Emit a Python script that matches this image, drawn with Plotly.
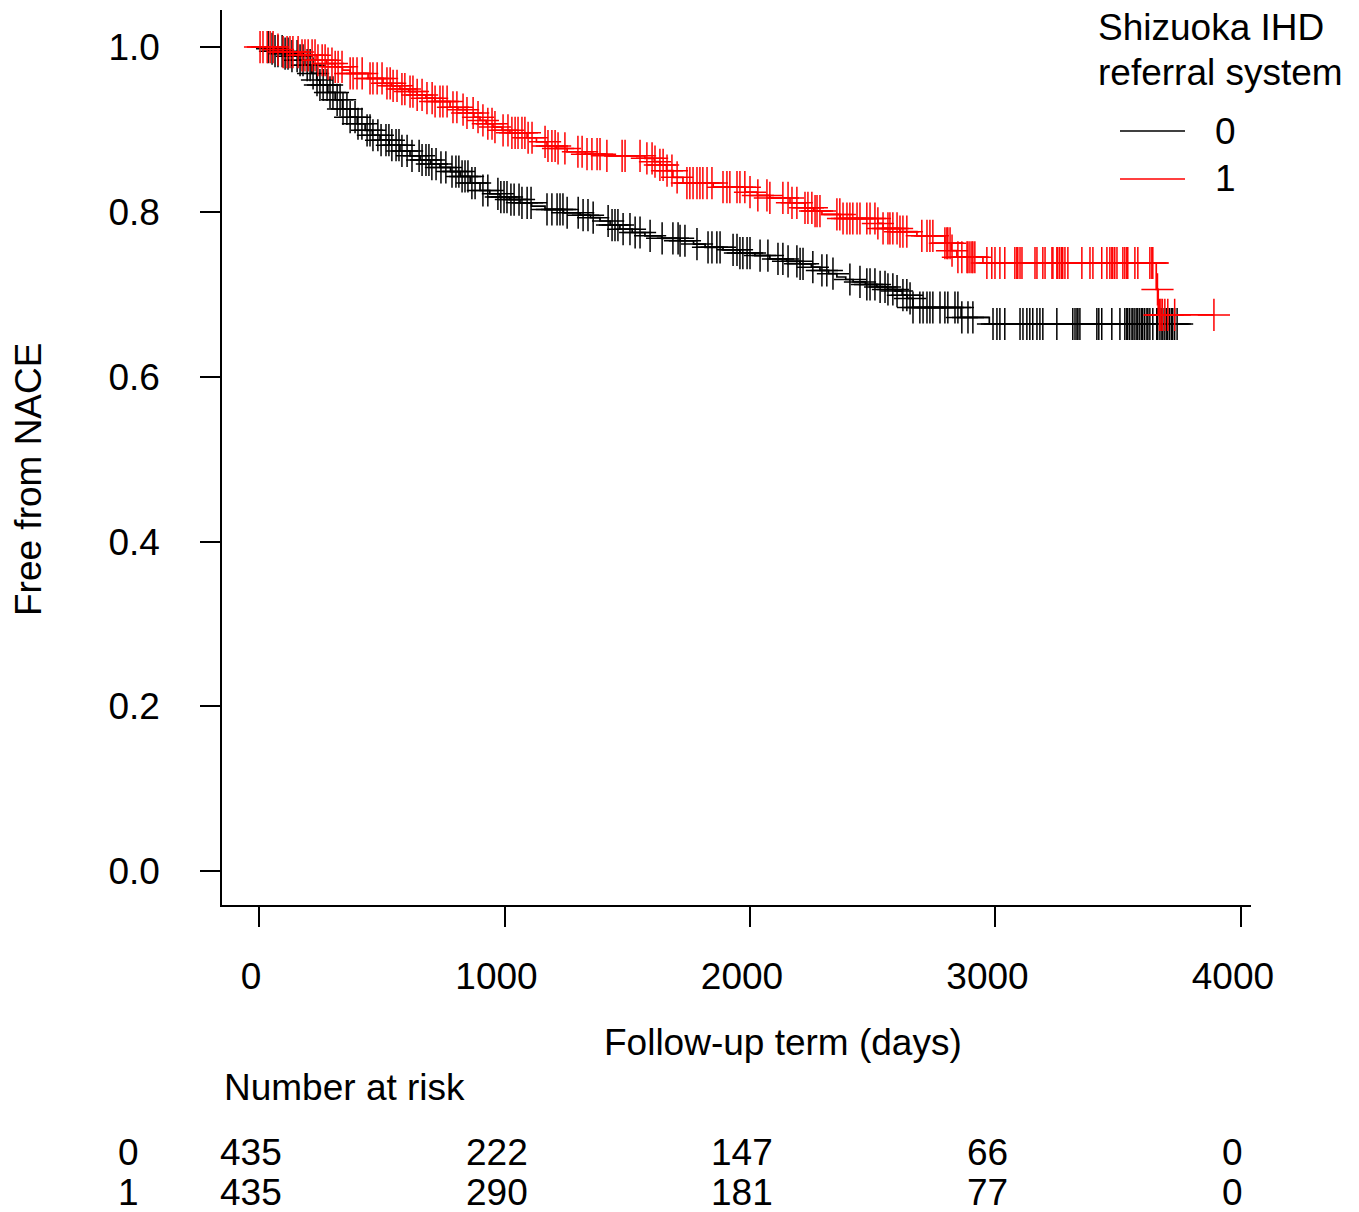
import numpy as np
import plotly.graph_objects as go

# ---------------- data ----------------
groups = ["0", "1"]

# Kaplan-Meier step points (time in days, survival)
g0_times = [0, 40, 65, 100, 126, 160, 187, 215, 235, 248, 280, 310, 340, 371, 400, 432, 462,
            493, 530, 574, 615, 656, 700, 737, 780, 819, 860, 900, 940, 982, 1020, 1063, 1110,
            1165, 1240, 1308, 1350, 1389, 1430, 1470, 1520, 1572, 1640, 1715, 1770, 1817, 1890,
            1959, 2020, 2081, 2150, 2204, 2250, 2285, 2320, 2354, 2390, 2420, 2470, 2517, 2560,
            2591, 2620, 2640, 2664, 2860, 2975]
g0_surv = [1.0, 0.998, 0.995, 0.992, 0.989, 0.984, 0.978, 0.968, 0.960, 0.954, 0.945, 0.936,
           0.925, 0.915, 0.907, 0.899, 0.893, 0.887, 0.881, 0.874, 0.868, 0.863, 0.858, 0.854,
           0.849, 0.843, 0.835, 0.826, 0.822, 0.818, 0.815, 0.811, 0.807, 0.803, 0.799, 0.796,
           0.793, 0.789, 0.784, 0.779, 0.775, 0.771, 0.768, 0.765, 0.761, 0.757, 0.754, 0.750,
           0.747, 0.743, 0.740, 0.737, 0.733, 0.729, 0.725, 0.721, 0.718, 0.715, 0.712, 0.709,
           0.706, 0.704, 0.699, 0.695, 0.684, 0.672, 0.664]

g1_times = [0, 60, 98, 167, 236, 275, 310, 340, 371, 444, 505, 540, 574, 610, 644, 680, 717,
            778, 810, 847, 875, 900, 925, 953, 990, 1022, 1092, 1130, 1173, 1210, 1255, 1330,
            1409, 1572, 1610, 1633, 1660, 1686, 1727, 1850, 1980, 2030, 2081, 2163, 2224, 2260,
            2293, 2367, 2521, 2542, 2610, 2680, 2794, 2820, 2843, 2949, 3655, 3663]
g1_surv = [1.0, 0.997, 0.994, 0.990, 0.984, 0.980, 0.976, 0.972, 0.968, 0.962, 0.956, 0.953,
           0.949, 0.946, 0.942, 0.938, 0.934, 0.927, 0.924, 0.920, 0.915, 0.911, 0.907, 0.903,
           0.899, 0.896, 0.890, 0.885, 0.880, 0.877, 0.873, 0.870, 0.868, 0.865, 0.861, 0.857,
           0.850, 0.842, 0.835, 0.830, 0.824, 0.820, 0.817, 0.811, 0.805, 0.801, 0.797, 0.792,
           0.786, 0.780, 0.776, 0.771, 0.762, 0.753, 0.745, 0.738, 0.706, 0.675]

# censoring times (days)
g0_censor = [37, 53, 65, 77, 94, 106, 118, 134, 155, 167, 179, 196, 208, 220, 236, 248, 261,
             277, 289, 301, 318, 330, 342, 358, 371, 391, 403, 419, 440, 452, 464, 484, 497,
             517, 529, 541, 558, 570, 582, 603, 623, 652, 664, 680, 692, 704, 721, 741, 761,
             786, 802, 814,
             827, 839, 851, 867, 880, 912, 932, 973, 985, 998, 1010, 1026, 1039, 1059, 1071,
             1092, 1108, 1173, 1193, 1214, 1226, 1238, 1255, 1300, 1320, 1340, 1361, 1422,
             1438, 1450, 1462, 1483, 1511, 1532, 1552, 1593, 1642, 1686, 1707,
             1715, 1735, 1784, 1829, 1845, 1865, 1878, 1931, 1947, 1959, 1971, 1988, 2000,
             2041, 2073, 2114, 2134, 2155, 2191, 2204, 2216, 2256, 2293, 2313, 2338, 2407,
             2448, 2476, 2489, 2509, 2530, 2550,
             2562, 2582, 2599, 2623, 2639, 2652, 2664, 2692, 2705, 2721, 2733, 2745, 2774,
             2794, 2806, 2835, 2847, 2863, 2888, 2908, 2990, 3006, 3018, 3038, 3100, 3112,
             3128, 3140, 3152, 3169, 3181, 3193, 3250,
             3315, 3324, 3332, 3336, 3344, 3413, 3421, 3433, 3474, 3507, 3527, 3535, 3539,
             3547, 3556, 3560, 3568, 3576, 3580, 3588, 3596, 3600, 3608, 3617, 3621, 3629,
             3641, 3657, 3661, 3670, 3678, 3682, 3690, 3698, 3702, 3710, 3718, 3722, 3730,
             3740]

g1_censor = [4, 16, 33, 45, 57, 77, 98, 114, 126, 138, 159, 175, 187, 200, 216, 228, 240, 257,
             269, 281, 297, 310, 322, 338, 371, 383, 399, 420, 452, 464, 481, 501, 521, 534,
             546, 562, 582, 594, 615, 627, 644, 664, 684, 705, 717, 737, 749, 766, 790, 806,
             831, 847,
             872, 892, 912, 932, 949, 961, 994, 1014, 1030, 1043, 1055, 1071, 1083, 1096, 1112,
             1165, 1177, 1193, 1206, 1218, 1246, 1299, 1316, 1336, 1356, 1377, 1389, 1417,
             1479, 1491, 1552, 1580, 1601, 1613, 1633, 1646, 1662, 1682, 1703,
             1743, 1755, 1768, 1784, 1796, 1808, 1825, 1845, 1890, 1906, 1918, 1947, 1959,
             1979, 2000, 2032, 2069, 2081, 2134, 2155, 2171, 2191, 2224, 2236, 2252, 2265,
             2273, 2285, 2354, 2366, 2379, 2395, 2407, 2419, 2436, 2448, 2476, 2489, 2509,
             2521, 2542, 2562,
             2570, 2582, 2599, 2611, 2623, 2639, 2700, 2721, 2733, 2745, 2794, 2802, 2806,
             2815, 2823, 2847, 2863, 2884, 2888, 2896, 2904, 2908, 2916, 2965, 2985, 2998,
             3018, 3038, 3079, 3087, 3091, 3100, 3108, 3161, 3169, 3193, 3202,
             3230, 3234, 3250, 3254, 3262, 3270, 3274, 3283, 3295, 3352, 3385, 3397, 3433,
             3454, 3466, 3474, 3478, 3486, 3495, 3519, 3527, 3535, 3539, 3568, 3580, 3629,
             3637, 3641, 3660, 3668, 3674, 3680, 3690, 3702, 3730, 3890]

risk_times = [0, 1000, 2000, 3000, 4000]
risk_0 = [435, 222, 147, 66, 0]
risk_1 = [435, 290, 181, 77, 0]

x_ticks = [0, 1000, 2000, 3000, 4000]
y_ticks = [0.0, 0.2, 0.4, 0.6, 0.8, 1.0]

colors = {"0": "#000000", "1": "#ff0000"}
FONT = "Liberation Sans, Arial, sans-serif"
FS = 37

# page body has an 8px margin: figure drawn 8px smaller so it fits the window
W, H = 1351, 1204
ML, MR, MT, MB = 214, 108, 2, 307

# ---------------- figure ----------------
fig = go.Figure()


def surv_at(times, surv, t):
    idx = np.searchsorted(np.asarray(times), np.asarray(t), side="right") - 1
    return np.asarray(surv)[idx]


for g, tt, ss, cc in [("0", g0_times, g0_surv, g0_censor), ("1", g1_times, g1_surv, g1_censor)]:
    x_line = list(tt) + [max(cc)]
    y_line = list(ss) + [ss[-1]]
    fig.add_trace(go.Scatter(x=x_line, y=y_line, mode="lines", line_shape="hv",
                             line=dict(color=colors[g], width=1.7), name=g,
                             showlegend=False, hoverinfo="skip"))
    fig.add_trace(go.Scatter(x=cc, y=surv_at(tt, ss, cc), mode="markers",
                             marker=dict(symbol="cross-thin", size=23,
                                         line=dict(color=colors[g], width=1.5)),
                             showlegend=False, hoverinfo="skip"))

PW = W - ML - MR   # plot width px
PH = H - MT - MB   # plot height px


def px_to_paper_x(px):
    return (px - 8 - ML) / PW


def px_to_paper_y(py):
    return (H - MB - (py - 8)) / PH


# number at risk table
row_y = [px_to_paper_y(1152), px_to_paper_y(1192)]
for vals, yp in zip([risk_0, risk_1], row_y):
    for t, v in zip(risk_times, vals):
        fig.add_annotation(x=t, y=yp, xref="x", yref="paper", text=str(v), showarrow=False,
                           xanchor="center", yanchor="middle", xshift=-8,
                           font=dict(family=FONT, size=FS, color="black"))
for g, yp in zip(groups, row_y):
    fig.add_annotation(x=px_to_paper_x(128), y=yp, xref="paper", yref="paper", text=g,
                       showarrow=False, xanchor="center", yanchor="middle",
                       font=dict(family=FONT, size=FS, color="black"))
fig.add_annotation(x=0.0, y=px_to_paper_y(1087), xref="paper", yref="paper",
                   text="Number at risk", showarrow=False, xanchor="left", yanchor="middle",
                   font=dict(family=FONT, size=FS, color="black"))

# axis titles
fig.add_annotation(x=px_to_paper_x(783), y=px_to_paper_y(1042), xref="paper", yref="paper",
                   text="Follow-up term (days)", showarrow=False,
                   xanchor="center", yanchor="middle",
                   font=dict(family=FONT, size=FS, color="black"))
fig.add_annotation(x=px_to_paper_x(28), y=px_to_paper_y(480), xref="paper", yref="paper",
                   text="Free from NACE", showarrow=False, textangle=-90,
                   xanchor="center", yanchor="middle",
                   font=dict(family=FONT, size=FS, color="black"))

# legend (drawn manually)
fig.add_annotation(x=px_to_paper_x(1096), y=px_to_paper_y(28), xref="paper", yref="paper",
                   text="Shizuoka IHD", showarrow=False, xanchor="left", yanchor="middle",
                   font=dict(family=FONT, size=FS, color="black"))
fig.add_annotation(x=px_to_paper_x(1096), y=px_to_paper_y(73), xref="paper", yref="paper",
                   text="referral system", showarrow=False, xanchor="left", yanchor="middle",
                   font=dict(family=FONT, size=FS, color="black"))
for g, py in zip(groups, [131, 179]):
    yp = px_to_paper_y(py)
    fig.add_shape(type="line", xref="paper", yref="paper", x0=px_to_paper_x(1120),
                  x1=px_to_paper_x(1185), y0=yp, y1=yp,
                  line=dict(color=colors[g], width=1.4))
    fig.add_annotation(x=px_to_paper_x(1225), y=yp, xref="paper", yref="paper", text=g,
                       showarrow=False, xanchor="center", yanchor="middle",
                       font=dict(family=FONT, size=FS, color="black"))

fig.update_layout(
    width=W, height=H,
    margin=dict(l=ML, r=MR, t=MT, b=MB),
    paper_bgcolor="white", plot_bgcolor="white",
    font=dict(family=FONT, size=FS, color="black"),
    showlegend=False,
)
fig.update_xaxes(range=[-151, 4041], tickvals=x_ticks, ticktext=[str(v) for v in x_ticks],
                 showline=True, linecolor="black", linewidth=1.5, ticks="outside",
                 ticklen=20, tickwidth=1.5, tickcolor="black", showgrid=False,
                 zeroline=False, ticklabelstandoff=18, ticklabelshift=-8,
                 tickfont=dict(family=FONT, size=FS, color="black"))
fig.update_yaxes(range=[-0.041, 1.045], tickvals=y_ticks,
                 ticktext=[f"{v:.1f}" for v in y_ticks],
                 showline=True, linecolor="black", linewidth=1.5, ticks="outside",
                 ticklen=20, tickwidth=1.5, tickcolor="black", showgrid=False,
                 zeroline=False, ticklabelstandoff=33,
                 tickfont=dict(family=FONT, size=FS, color="black"))

fig.write_html("out.html")
